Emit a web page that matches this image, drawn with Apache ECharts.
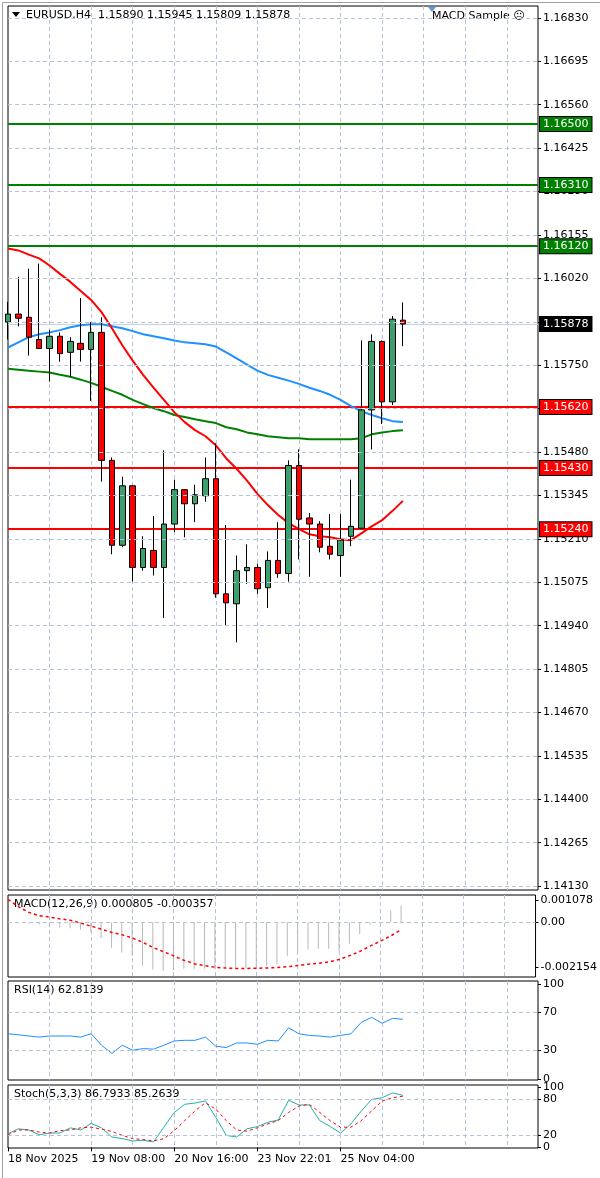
<!DOCTYPE html>
<html>
<head>
<meta charset="utf-8">
<script src="https://cdn.jsdelivr.net/npm/echarts@6/dist/echarts.min.js"></script>
<style>
  html, body { margin: 0; padding: 0; background: #fff; }
  #chart { width: 600px; height: 1178px; }
</style>
</head>
<body>
<div id="chart"></div>
<script>
// EURUSD H4 candles: [open, close, low, high]
var candles = [
  [1.15884, 1.15909, 1.15830, 1.15947], [1.15909, 1.15896, 1.15871, 1.16025],
  [1.15899, 1.15837, 1.15780, 1.16050], [1.15830, 1.15802, 1.15800, 1.16066],
  [1.15802, 1.15840, 1.15699, 1.15859], [1.15840, 1.15786, 1.15761, 1.15852],
  [1.15790, 1.15824, 1.15714, 1.15837], [1.15818, 1.15799, 1.15761, 1.15959],
  [1.15799, 1.15852, 1.15639, 1.15884], [1.15852, 1.15454, 1.15388, 1.15899],
  [1.15454, 1.15190, 1.15162, 1.15463], [1.15190, 1.15375, 1.15184, 1.15403],
  [1.15375, 1.15121, 1.15077, 1.15378], [1.15121, 1.15180, 1.15111, 1.15218],
  [1.15174, 1.15121, 1.15096, 1.15281], [1.15121, 1.15256, 1.14964, 1.15485],
  [1.15256, 1.15363, 1.15231, 1.15394], [1.15363, 1.15319, 1.15215, 1.15365],
  [1.15319, 1.15347, 1.15262, 1.15378], [1.15344, 1.15397, 1.15325, 1.15463],
  [1.15397, 1.15039, 1.15027, 1.15507], [1.15039, 1.15011, 1.14942, 1.15253],
  [1.15008, 1.15111, 1.14888, 1.15158], [1.15111, 1.15121, 1.15070, 1.15193],
  [1.15121, 1.15055, 1.15039, 1.15133], [1.15058, 1.15143, 1.14995, 1.15171],
  [1.15143, 1.15102, 1.15089, 1.15262], [1.15102, 1.15438, 1.15077, 1.15454],
  [1.15438, 1.15271, 1.15146, 1.15488], [1.15275, 1.15256, 1.15092, 1.15290],
  [1.15256, 1.15184, 1.15168, 1.15265], [1.15187, 1.15162, 1.15146, 1.15287],
  [1.15158, 1.15206, 1.15092, 1.15287], [1.15218, 1.15249, 1.15187, 1.15394],
  [1.15243, 1.15611, 1.15243, 1.15827], [1.15611, 1.15824, 1.15488, 1.15846],
  [1.15824, 1.15636, 1.15567, 1.15827], [1.15636, 1.15893, 1.15626, 1.15903],
  [1.15890, 1.15878, 1.15809, 1.15945]
];

var maRed = [1.16113, 1.16107, 1.16094, 1.16082, 1.16060, 1.16034, 1.16009, 1.15981, 1.15953, 1.15915,
  1.15865, 1.15812, 1.15764, 1.15720, 1.15680, 1.15642, 1.15604, 1.15573, 1.15548, 1.15529,
  1.15501, 1.15460, 1.15428, 1.15391, 1.15350, 1.15315, 1.15284, 1.15259, 1.15240, 1.15224,
  1.15218, 1.15215, 1.15209, 1.15206, 1.15227, 1.15249, 1.15268, 1.15297, 1.15328];
var maBlue = [1.15805, 1.15821, 1.15837, 1.15846, 1.15852, 1.15859, 1.15868, 1.15874, 1.15877, 1.15877,
  1.15871, 1.15865, 1.15856, 1.15846, 1.15840, 1.15834, 1.15827, 1.15821, 1.15818, 1.15815,
  1.15808, 1.15790, 1.15771, 1.15752, 1.15733, 1.15720, 1.15711, 1.15702, 1.15692, 1.15680,
  1.15670, 1.15658, 1.15642, 1.15623, 1.15607, 1.15595, 1.15585, 1.15576, 1.15573];
var maGreen = [1.15739, 1.15736, 1.15733, 1.15730, 1.15727, 1.15720, 1.15714, 1.15705, 1.15695, 1.15683,
  1.15670, 1.15658, 1.15642, 1.15629, 1.15617, 1.15607, 1.15595, 1.15589, 1.15582, 1.15576,
  1.15570, 1.15557, 1.15551, 1.15541, 1.15535, 1.15529, 1.15526, 1.15523, 1.15523, 1.15520,
  1.15520, 1.15520, 1.15520, 1.15520, 1.15523, 1.15535, 1.15541, 1.15545, 1.15548];

var macdHist = [0.00003, 0.00002, -0.00005, -0.00010, -0.00020, -0.00025, -0.00028, -0.00036, -0.00045, -0.00075,
  -0.00122, -0.00145, -0.00160, -0.00207, -0.00227, -0.00232, -0.00230, -0.00222, -0.00222, -0.00222,
  -0.00222, -0.00222, -0.00222, -0.00220, -0.00215, -0.00210, -0.00200, -0.00160, -0.00145, -0.00130,
  -0.00127, -0.00127, -0.00137, -0.00103, -0.00056, -0.00010, 0.00000, 0.00058, 0.00081];
var macdSignal = [0.00110, 0.00075, 0.00048, 0.00032, 0.00025, 0.00017, 0.00010, -0.00003, -0.00018, -0.00032,
  -0.00048, -0.00059, -0.00075, -0.00095, -0.00120, -0.00140, -0.00160, -0.00182, -0.00198, -0.00208,
  -0.00215, -0.00219, -0.00221, -0.00221, -0.00220, -0.00219, -0.00217, -0.00213, -0.00207, -0.00201,
  -0.00196, -0.00190, -0.00178, -0.00160, -0.00140, -0.00114, -0.00090, -0.00065, -0.00036];

var rsi = [47.6, 46.5, 45.2, 44.1, 45.2, 45.2, 45.2, 44.1, 47.6, 35.5,
  26.9, 35.5, 30.3, 32.0, 31.4, 35.5, 40.0, 40.7, 40.7, 44.1,
  34.5, 33.1, 37.9, 37.9, 36.5, 40.7, 40.0, 53.8, 47.6, 45.8,
  45.2, 44.1, 45.8, 47.6, 59.6, 64.8, 58.6, 63.8, 62.8];

var stochMain = [22.7, 31.0, 29.0, 21.0, 24.0, 24.0, 32.6, 29.0, 40.0, 32.6,
  17.3, 14.6, 10.8, 11.9, 9.1, 33.7, 58.2, 71.8, 74.0, 77.3,
  50.0, 20.0, 17.3, 31.0, 34.8, 41.8, 45.7, 78.4, 70.7, 70.7,
  44.6, 34.8, 23.9, 39.1, 60.9, 80.0, 82.7, 90.9, 86.8];
var stochSignal = [21.0, 29.0, 29.0, 25.5, 24.0, 28.0, 29.0, 32.6, 33.7, 30.4,
  26.6, 20.0, 14.6, 13.0, 10.8, 14.6, 28.0, 44.6, 60.9, 74.5,
  63.6, 44.6, 29.0, 27.1, 32.6, 39.1, 44.6, 58.2, 69.1, 71.8,
  58.2, 44.6, 33.7, 33.7, 44.6, 60.9, 77.3, 82.7, 85.3];

var priceTicks = [1.16830, 1.16695, 1.16560, 1.16425, 1.16290, 1.16155, 1.16020, 1.15885, 1.15750, 1.15615,
  1.15480, 1.15345, 1.15210, 1.15075, 1.14940, 1.14805, 1.14670, 1.14535, 1.14400, 1.14265, 1.14130];
var greenLevels = [1.16500, 1.16310, 1.16120];
var redLevels = [1.15620, 1.15430, 1.15240];
var lastPrice = 1.15878;
var macdTicks = [0.001078, 0, -0.002154];
var rsiTicks = [100, 70, 30, 0];
var stochTicks = [100, 80, 20, 0];
var dateLabels = {0: '18 Nov 2025', 8: '19 Nov 08:00', 16: '20 Nov 16:00', 24: '23 Nov 22:01', 32: '25 Nov 04:00'};

var SLOTS = 52;
var slots = [];
for (var i = 0; i < SLOTS; i++) slots.push(i);

var FONT = 'DejaVu Sans';
var gridColor = '#b4c3d9';

function levelLine(v, color, boxColor, width) {
  return {
    yAxis: v,
    lineStyle: {color: color, width: width, type: 'solid'},
    label: {
      show: true, position: 'end', distance: 2,
      formatter: v.toFixed(5),
      backgroundColor: boxColor, color: '#fff', borderColor: '#000', borderWidth: 1,
      padding: [2, 3, 1, 3], fontSize: 11, fontFamily: FONT
    }
  };
}

var levelData = [levelLine(lastPrice, '#c8d2e6', '#000', 1)];
greenLevels.forEach(function (v) { levelData.push(levelLine(v, '#008000', '#008000', 2)); });
redLevels.forEach(function (v) { levelData.push(levelLine(v, '#ff0000', '#ff0000', 2)); });

function xAxisFor(gi, showLabels) {
  return {
    type: 'category', gridIndex: gi, data: slots, boundaryGap: false,
    axisLine: {show: false},
    axisTick: {show: showLabels, interval: function (i) { return dateLabels[i] !== undefined; }, length: 4, lineStyle: {color: '#000'}},
    axisLabel: {
      show: showLabels, align: 'left', margin: 6, fontSize: 11, fontFamily: FONT, color: '#000',
      interval: function (i) { return dateLabels[i] !== undefined; },
      formatter: function (v) { return dateLabels[v] || ''; }
    },
    splitLine: {show: true, interval: function (i) { return i > 0 && i % 4 === 0; },
      lineStyle: {color: gridColor, type: [4, 3]}}
  };
}

function yAxisFor(gi, min, max, ticks, fmt) {
  return {
    type: 'value', gridIndex: gi, position: 'right', min: min, max: max, scale: true,
    axisLine: {show: false},
    axisTick: {show: true, customValues: ticks, length: 3, lineStyle: {color: '#000'}},
    axisLabel: {show: true, customValues: ticks, formatter: fmt, fontSize: 11, fontFamily: FONT, color: '#000', margin: 5},
    splitLine: {show: false}
  };
}

function gridMark(values) {
  return {
    symbol: 'none', silent: true, precision: 6, label: {show: false},
    lineStyle: {color: gridColor, type: [4, 3], width: 1},
    data: values.map(function (v) { return {yAxis: v}; })
  };
}

var chart = echarts.init(document.getElementById('chart'), null, {renderer: 'canvas'});

var option = {
  animation: false,
  backgroundColor: '#fff',
  grid: [
    {left: 8, right: 62, top: 6, height: 884, show: true, borderColor: '#000', borderWidth: 1},
    {left: 8, right: 62, top: 895, height: 82, show: true, borderColor: '#000', borderWidth: 1},
    {left: 8, right: 62, top: 981, height: 99, show: true, borderColor: '#000', borderWidth: 1},
    {left: 8, right: 62, top: 1085, height: 63, show: true, borderColor: '#000', borderWidth: 1}
  ],
  xAxis: [xAxisFor(0, false), xAxisFor(1, false), xAxisFor(2, false), xAxisFor(3, true)],
  yAxis: [
    yAxisFor(0, 1.14118, 1.16867, priceTicks, function (v) { return v.toFixed(5); }),
    yAxisFor(1, -0.00262, 0.00131, macdTicks, function (v) { return v === 0 ? '0.00' : v.toFixed(6); }),
    yAxisFor(2, -1, 103, rsiTicks, function (v) { return String(v); }),
    yAxisFor(3, -1, 104, stochTicks, function (v) { return String(v); })
  ],
  series: [
    {type: 'line', xAxisIndex: 0, yAxisIndex: 0, data: [], silent: true, markLine: gridMark(priceTicks)},
    {type: 'line', xAxisIndex: 0, yAxisIndex: 0, data: maGreen, showSymbol: false, lineStyle: {color: '#008000', width: 2}, z: 3},
    {type: 'line', xAxisIndex: 0, yAxisIndex: 0, data: maBlue, showSymbol: false, lineStyle: {color: '#1e90ff', width: 2}, z: 3},
    {type: 'line', xAxisIndex: 0, yAxisIndex: 0, data: maRed, showSymbol: false, lineStyle: {color: '#ff0000', width: 2}, z: 3},
    {
      type: 'candlestick', xAxisIndex: 0, yAxisIndex: 0, data: candles, barWidth: 6, z: 4,
      itemStyle: {color: '#3ca06c', color0: '#ff0000', borderColor: '#000', borderColor0: '#000', borderWidth: 1},
      markLine: {symbol: 'none', silent: true, precision: 6, z: 2, data: levelData}
    },
    {type: 'line', xAxisIndex: 1, yAxisIndex: 1, data: [], silent: true, markLine: gridMark([0])},
    {type: 'bar', xAxisIndex: 1, yAxisIndex: 1, data: macdHist, barWidth: 1, itemStyle: {color: '#b8b8b8'}},
    {type: 'line', xAxisIndex: 1, yAxisIndex: 1, data: macdSignal, showSymbol: false, lineStyle: {color: '#ff0000', width: 1.5, type: [3, 3]}},
    {type: 'line', xAxisIndex: 2, yAxisIndex: 2, data: [], silent: true, markLine: gridMark([70, 30])},
    {type: 'line', xAxisIndex: 2, yAxisIndex: 2, data: rsi, showSymbol: false, lineStyle: {color: '#1e90ff', width: 1}},
    {type: 'line', xAxisIndex: 3, yAxisIndex: 3, data: [], silent: true, markLine: gridMark([80, 20])},
    {type: 'line', xAxisIndex: 3, yAxisIndex: 3, data: stochMain, showSymbol: false, lineStyle: {color: '#20b2aa', width: 1}},
    {type: 'line', xAxisIndex: 3, yAxisIndex: 3, data: stochSignal, showSymbol: false, lineStyle: {color: '#ff0000', width: 1, type: [3, 3]}}
  ],
  graphic: [
    {type: 'rect', left: 0, top: 0, shape: {width: 599, height: 1177}, style: {fill: 'none', stroke: '#a0a0a0', lineWidth: 1}, silent: true},
    {type: 'polygon', shape: {points: [[12, 12], [20, 12], [16, 17]]}, style: {fill: '#000'}},
    {type: 'text', left: 26, top: 10, style: {text: 'EURUSD,H4  1.15890 1.15945 1.15809 1.15878', font: '11px "DejaVu Sans"', fill: '#000'}},
    {type: 'polygon', shape: {points: [[428, 7], [436, 7], [432, 12]]}, style: {fill: '#5b9bd5'}},
    {type: 'text', left: 432, top: 11, style: {text: 'MACD Sample ☹', font: '11px "DejaVu Sans"', fill: '#000'}},
    {type: 'text', left: 14, top: 899, style: {text: 'MACD(12,26,9) 0.000805 -0.000357', font: '11px "DejaVu Sans"', fill: '#000'}},
    {type: 'text', left: 14, top: 985, style: {text: 'RSI(14) 62.8139', font: '11px "DejaVu Sans"', fill: '#000'}},
    {type: 'text', left: 14, top: 1089, style: {text: 'Stoch(5,3,3) 86.7933 85.2639', font: '11px "DejaVu Sans"', fill: '#000'}}
  ]
};

chart.setOption(option);
</script>
</body>
</html>
